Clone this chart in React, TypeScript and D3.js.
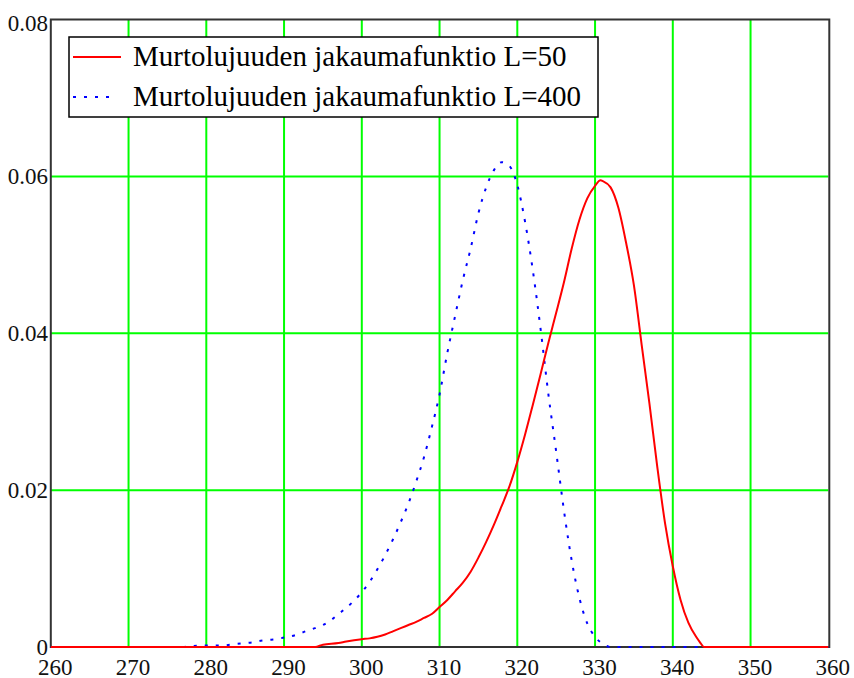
import React from "react";
import * as d3 from "d3";

const xTicks = [260, 270, 280, 290, 300, 310, 320, 330, 340, 350, 360];
const yTicks = [0, 0.02, 0.04, 0.06, 0.08];
const yTickLabels = ["0", "0.02", "0.04", "0.06", "0.08"];

const seriesNames = [
  "Murtolujuuden jakaumafunktio L=50",
  "Murtolujuuden jakaumafunktio L=400",
];

// L=50 (red, solid)
const redX = [260, 288, 294, 295, 297, 298, 300, 301, 302, 303, 304, 305, 306, 307, 308, 309, 310, 311, 312, 313, 314, 315, 316, 317, 318, 319, 320, 321, 322, 323, 324, 325, 326, 327, 328, 329, 330, 330.7, 331, 332, 333, 334, 335, 336, 337, 338, 339, 340, 341, 342, 343, 343.5, 344, 360];
const redY = [0, 0, 0, 0.0003, 0.0005, 0.0007, 0.001, 0.0011, 0.0013, 0.0016, 0.002, 0.0024, 0.0028, 0.0032, 0.0037, 0.0042, 0.0051, 0.006, 0.0071, 0.0082, 0.0096, 0.0114, 0.0134, 0.0156, 0.018, 0.0205, 0.0236, 0.0271, 0.0309, 0.0348, 0.0388, 0.0426, 0.0465, 0.0508, 0.0545, 0.0572, 0.0588, 0.0595, 0.0594, 0.0586, 0.056, 0.0515, 0.0461, 0.0385, 0.031, 0.023, 0.0158, 0.0103, 0.006, 0.0031, 0.0013, 0.0006, 0, 0];

// L=400 (blue, dotted)
const blueX = [260, 277, 278, 280, 282, 284, 285, 286, 287, 288, 289, 290, 291, 292, 293, 294, 295, 296, 297, 298, 299, 300, 301, 302, 303, 304, 305, 306, 307, 308, 309, 310, 311, 312, 313, 314, 315, 316, 317, 318, 319, 320, 321, 322, 323, 324, 325, 326, 327, 328, 329, 330, 331, 332, 360];
const blueY = [0, 0, 0.0001, 0.0002, 0.0002, 0.0004, 0.0005, 0.0006, 0.0008, 0.0009, 0.001, 0.0012, 0.0014, 0.0017, 0.0021, 0.0024, 0.0028, 0.0034, 0.0042, 0.005, 0.0059, 0.007, 0.0083, 0.0099, 0.0117, 0.0137, 0.0159, 0.0183, 0.0211, 0.0242, 0.028, 0.0322, 0.0375, 0.0422, 0.0468, 0.0508, 0.0553, 0.0586, 0.0608, 0.0618, 0.0613, 0.0589, 0.0542, 0.048, 0.0405, 0.0322, 0.0249, 0.0174, 0.011, 0.0062, 0.003, 0.0013, 0.0004, 0, 0];

const W = 854;
const H = 678;
const left = 50.8;
const right = 828.3;
const top = 19.5;
const bottom = 647;

export default function App() {
  const x = d3.scaleLinear().domain([260, 360]).range([left, right]);
  const y = d3.scaleLinear().domain([0, 0.08]).range([bottom, top]);

  const line = d3
    .line<[number, number]>()
    .x((d) => x(d[0]))
    .y((d) => y(d[1]))
    .curve(d3.curveMonotoneX);

  const redData: [number, number][] = redX.map((v, i) => [v, redY[i]]);
  const blueData: [number, number][] = blueX.map((v, i) => [v, blueY[i]]);

  const font = "'Liberation Serif', 'Times New Roman', serif";

  return (
    <div style={{ position: "absolute", left: 0, top: 0 }}>
      <svg width={W} height={H} style={{ display: "block", background: "#fff" }}>
        {/* grid */}
        <g stroke="#00ff00" strokeWidth={2}>
          {xTicks.slice(1, -1).map((t) => (
            <line key={"gx" + t} x1={x(t)} x2={x(t)} y1={top} y2={bottom} />
          ))}
          {yTicks.slice(1, -1).map((t) => (
            <line key={"gy" + t} x1={left} x2={right} y1={y(t)} y2={y(t)} />
          ))}
        </g>
        {/* frame */}
        <rect
          x={left}
          y={top}
          width={right - left + 1}
          height={bottom - top}
          fill="none"
          stroke="#333"
          strokeWidth={2}
        />
        {/* curves */}
        <path d={line(blueData) || ""} fill="none" stroke="#0000ff" strokeWidth={2} strokeDasharray="3 8" />
        <path d={line(redData) || ""} fill="none" stroke="#ff0000" strokeWidth={2} />
        {/* tick labels */}
        <g fontFamily={font} fontSize={23} fill="#111">
          {yTicks.map((t, i) => (
            <text
              key={"yl" + t}
              x={48}
              y={Math.max(y(t), 23)}
              textAnchor="end"
              dominantBaseline="central"
            >
              {yTickLabels[i]}
            </text>
          ))}
          {xTicks.map((t) => (
            <text key={"xl" + t} x={x(t) + 4.5} y={675} textAnchor="middle">
              {t}
            </text>
          ))}
        </g>
        {/* legend */}
        <rect x={69} y={37} width={529} height={80} fill="#fff" stroke="#000" strokeWidth={1.5} />
        <line x1={73} x2={121} y1={57} y2={57} stroke="#ff0000" strokeWidth={2} />
        <line x1={73} x2={115} y1={97} y2={97} stroke="#0000ff" strokeWidth={2} strokeDasharray="3 8" />
        <g fontFamily={font} fontSize={29} fill="#000">
          <text x={133} y={66}>{seriesNames[0]}</text>
          <text x={133} y={106}>{seriesNames[1]}</text>
        </g>
      </svg>
    </div>
  );
}
